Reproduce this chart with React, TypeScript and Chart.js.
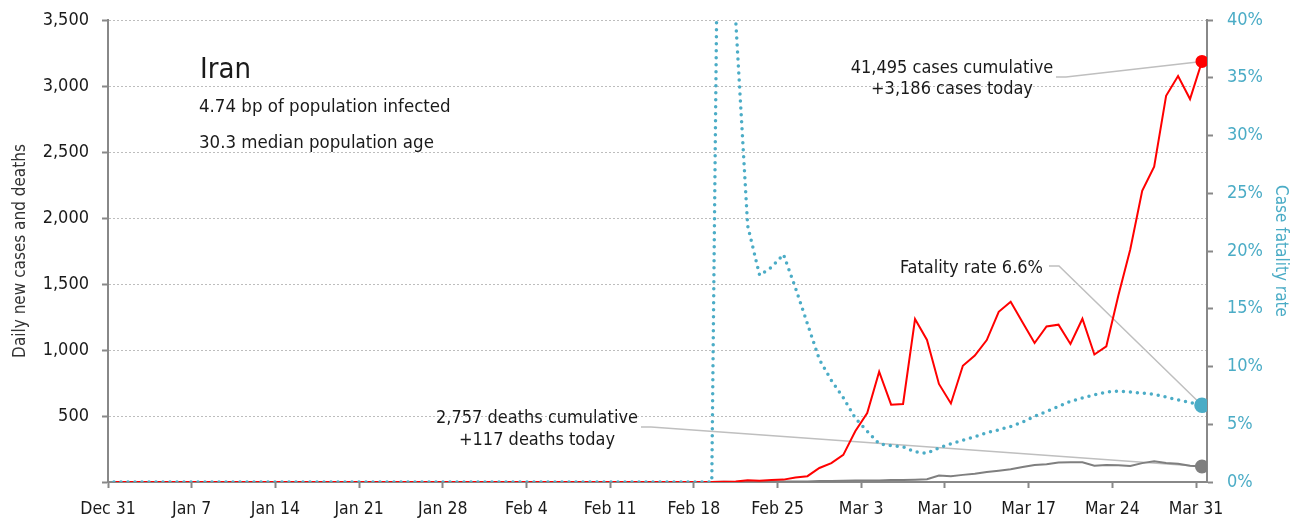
import React, { useEffect, useRef } from 'react';
import { Chart, registerables } from 'chart.js';

Chart.register(...registerables);

const FONT = "'Liberation Sans Narrow', 'DejaVu Sans Condensed', 'Arial Narrow', sans-serif";

// Tick labels along the x axis (every 7 days, day 0 = Dec 31)
const tickLabels = ['Dec 31', 'Jan 7', 'Jan 14', 'Jan 21', 'Jan 28', 'Feb 4', 'Feb 11', 'Feb 18', 'Feb 25', 'Mar 3', 'Mar 10', 'Mar 17', 'Mar 24', 'Mar 31'];
const tickDays = [0, 7, 14, 21, 28, 35, 42, 49, 56, 63, 70, 77, 84, 91];

// Daily new cases, one value per day (Dec 31 .. Mar 31)
const dailyCases = [
  0, 0, 0, 0, 0, 0, 0, 0, 0, 0,
  0, 0, 0, 0, 0, 0, 0, 0, 0, 0,
  0, 0, 0, 0, 0, 0, 0, 0, 0, 0,
  0, 0, 0, 0, 0, 0, 0, 0, 0, 0,
  0, 0, 0, 0, 0, 0, 0, 0, 0, 0,
  0,
  2, 3, 13, 10, 15, 18, 34, 44, 106, 143, 205,
  385, 523, 835, 586, 591, 1234, 1076, 743, 595, 881,
  958, 1075, 1289, 1365, 1209, 1053, 1178, 1192, 1046, 1237,
  966, 1028, 1411, 1762, 2206, 2389, 2926, 3076, 2901, 3186,
];

// Daily new deaths
const dailyDeaths = [
  0, 0, 0, 0, 0, 0, 0, 0, 0, 0,
  0, 0, 0, 0, 0, 0, 0, 0, 0, 0,
  0, 0, 0, 0, 0, 0, 0, 0, 0, 0,
  0, 0, 0, 0, 0, 0, 0, 0, 0, 0,
  0, 0, 0, 0, 0, 0, 0, 0, 0, 0,
  0,
  2, 0, 2, 1, 3, 4, 4, 3, 7, 8, 9,
  11, 12, 11, 15, 15, 17, 21, 49, 43, 54,
  63, 75, 85, 97, 113, 129, 135, 147, 149, 149,
  123, 129, 127, 122, 143, 157, 144, 139, 123, 117,
];

// Case fatality rate, %
const fatalityRate = [
  0, 0, 0, 0, 0, 0, 0, 0, 0, 0,
  0, 0, 0, 0, 0, 0, 0, 0, 0, 0,
  0, 0, 0, 0, 0, 0, 0, 0, 0, 0,
  0, 0, 0, 0, 0, 0, 0, 0, 0, 0,
  0, 0, 0, 0, 0, 0, 0, 0, 0, 0,
  0,
  100, 40.0, 22.2, 17.9, 18.6, 19.7, 16.8, 13.7, 10.6, 8.8, 7.3,
  5.52, 4.40, 3.30, 3.15, 3.05, 2.61, 2.49, 2.95, 3.31, 3.62,
  3.93, 4.26, 4.52, 4.80, 5.19, 5.69, 6.11, 6.54, 6.98, 7.29,
  7.55, 7.79, 7.86, 7.79, 7.69, 7.60, 7.35, 7.11, 6.89, 6.64,
];

const titleText = 'Iran';
const subtitleLines = ['4.74 bp of population infected', '30.3 median population age'];
const casesNote = ['41,495 cases cumulative', '+3,186 cases today'];
const rateNote = ['Fatality rate 6.6%'];
const deathsNote = ['2,757 deaths cumulative', '+117 deaths today'];

const DAY_OFFSET = 0.5;
const BLUE = '#4BACC6';
const RED = '#FF0000';
const GREY = '#7F7F7F';
const LEADER = '#BFBFBF';
const TEXT = '#1a1a1a';

const toPoints = (arr: number[]) => arr.map((v, i) => ({ x: i + DAY_OFFSET, y: v }));
const lastIdx = dailyCases.length - 1;
const endDot = (r: number) => (ctx: any) => (ctx.dataIndex === lastIdx ? r : 0);

const annotationPlugin = {
  id: 'iranNotes',
  beforeDatasetsDraw(chart: any) {
    const { ctx, scales } = chart;
    const xs = scales.x.getPixelForValue(lastIdx + DAY_OFFSET);
    const yCase = scales.y.getPixelForValue(dailyCases[lastIdx]);
    const yDeath = scales.y.getPixelForValue(dailyDeaths[lastIdx]);
    const yRate = scales.y1.getPixelForValue(fatalityRate[lastIdx]);
    ctx.save();
    ctx.strokeStyle = LEADER;
    ctx.lineWidth = 1.5;
    const leader = (x0: number, y0: number, x1: number, y1: number) => {
      ctx.beginPath();
      ctx.moveTo(x0, y0);
      ctx.lineTo(x0 + 10, y0);
      ctx.lineTo(x1, y1);
      ctx.stroke();
    };
    leader(1056, 77, xs, yCase);
    leader(1049, 266, xs, yRate);
    leader(641, 427, xs, yDeath);
    ctx.restore();
  },
  afterDraw(chart: any) {
    const { ctx } = chart;
    ctx.save();
    ctx.fillStyle = TEXT;
    ctx.textBaseline = 'alphabetic';
    ctx.textAlign = 'left';
    ctx.font = `29px ${FONT}`;
    ctx.fillText(titleText, 200, 78);
    ctx.font = `18.5px ${FONT}`;
    ctx.fillText(subtitleLines[0], 199, 112);
    ctx.fillText(subtitleLines[1], 199, 148);
    ctx.font = `18px ${FONT}`;
    ctx.textAlign = 'center';
    ctx.fillText(casesNote[0], 952, 73);
    ctx.fillText(casesNote[1], 952, 94);
    ctx.textAlign = 'right';
    ctx.fillText(rateNote[0], 1043, 273);
    ctx.textAlign = 'center';
    ctx.fillText(deathsNote[0], 537, 423);
    ctx.fillText(deathsNote[1], 537, 445);
    ctx.restore();
  },
};

const noVerticalOverflow = (width: number) => (s: any) => {
  s.width = width;
  s.paddingTop = 0;
  s.paddingBottom = 0;
};

export default function App() {
  const ref = useRef<HTMLCanvasElement>(null);
  useEffect(() => {
    if (!ref.current) return;
    const chart = new Chart(ref.current, {
      type: 'line',
      data: {
        datasets: [
          {
            label: 'Daily new deaths',
            data: toPoints(dailyDeaths),
            borderColor: GREY,
            backgroundColor: GREY,
            borderWidth: 2,
            pointRadius: endDot(6),
            pointHoverRadius: 0,
            yAxisID: 'y',
            order: 3,
          },
          {
            label: 'Daily new cases',
            data: toPoints(dailyCases),
            borderColor: RED,
            backgroundColor: RED,
            borderWidth: 2,
            pointRadius: endDot(5.5),
            pointHoverRadius: 0,
            yAxisID: 'y',
            order: 2,
          },
          {
            label: 'Case fatality rate',
            data: toPoints(fatalityRate),
            borderColor: BLUE,
            backgroundColor: BLUE,
            borderWidth: 3.5,
            borderDash: [0, 7],
            borderCapStyle: 'round',
            pointRadius: endDot(6),
            pointHoverRadius: 0,
            yAxisID: 'y1',
            order: 1,
          },
        ],
      },
      options: {
        animation: false,
        responsive: false,
        events: [],
        layout: { padding: { top: 20, left: 0, right: 0, bottom: 0 } },
        plugins: { legend: { display: false }, tooltip: { enabled: false } },
        scales: {
          x: {
            type: 'linear',
            min: 0,
            max: 91.92,
            afterBuildTicks: (s: any) => {
              s.ticks = tickDays.map((v) => ({ value: v }));
            },
            afterFit: (s: any) => {
              s.height = 41;
            },
            ticks: {
              autoSkip: false,
              maxRotation: 0,
              padding: 11,
              color: TEXT,
              font: { family: FONT, size: 17.5 },
              callback: (v: any) => tickLabels[tickDays.indexOf(Number(v))],
            },
            grid: { drawOnChartArea: false, drawTicks: true, tickLength: 6, tickColor: '#888', tickWidth: 2 },
            border: { display: true, color: '#888', width: 2 },
          },
          y: {
            position: 'left',
            min: 0,
            max: 3500,
            afterFit: noVerticalOverflow(108),
            ticks: {
              stepSize: 500,
              padding: 13,
              color: TEXT,
              font: { family: FONT, size: 18 },
              callback: (v: any) => (Number(v) === 0 ? '' : Number(v).toLocaleString('en-US')),
            },
            grid: { color: '#BDBDBD', lineWidth: 1, drawTicks: true, tickLength: 6, tickColor: '#888', tickWidth: 2 },
            border: { display: true, color: '#888', width: 2, dash: [2, 2] },
            title: {
              display: true,
              text: 'Daily new cases and deaths',
              color: '#333',
              font: { family: FONT, size: 17 },
              padding: { top: 10, bottom: 0 },
            },
          },
          y1: {
            position: 'right',
            min: 0,
            max: 40,
            afterFit: noVerticalOverflow(94),
            ticks: {
              stepSize: 5,
              padding: 14,
              color: BLUE,
              font: { family: FONT, size: 18 },
              callback: (v: any) => `${v}%`,
            },
            grid: { drawOnChartArea: false, drawTicks: true, tickLength: 6, tickColor: '#888', tickWidth: 2 },
            border: { display: true, color: '#888', width: 2 },
            title: {
              display: true,
              text: 'Case fatality rate',
              color: BLUE,
              font: { family: FONT, size: 17 },
              padding: { top: 10, bottom: 0 },
            },
          },
        },
      },
      plugins: [annotationPlugin],
    } as any);
    return () => chart.destroy();
  }, []);

  return (
    <div style={{ position: 'absolute', left: 0, top: 0, width: 1301, height: 523, background: '#fff' }}>
      <canvas ref={ref} width={1301} height={523} style={{ display: 'block' }} />
    </div>
  );
}
